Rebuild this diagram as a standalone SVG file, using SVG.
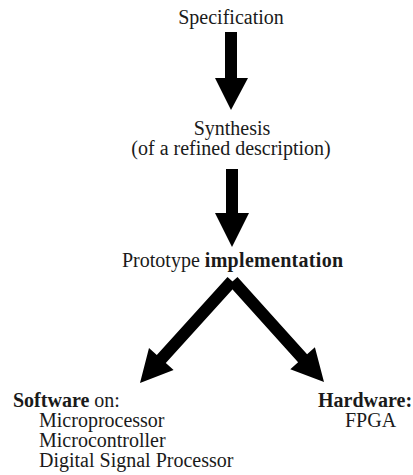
<svg xmlns="http://www.w3.org/2000/svg" width="413" height="475" viewBox="0 0 413 475">
  <style>
    text { font-family: "Liberation Serif", "Times New Roman", serif; font-size: 20px; fill: #1a1a1a; }
    .mid { text-anchor: middle; }
    .b { font-weight: bold; }
    .arrow { fill: #000; stroke: none; }
  </style>
  <rect width="413" height="475" fill="#fff"/>

  <!-- connectors: thick block arrows -->
  <g id="connectors">
    <polygon class="arrow" points="225,32 237,32 237,78 248,78 231,110 215,78 225,78"/>
    <polygon class="arrow" points="226,169 238,169 238,213 249,213 232,247 215,213 226,213"/>
    <polygon class="arrow" points="236.5,285 165.8,363.1 173.6,370.1 140,383 149,348.1 156.8,355.1 227.5,277"/>
    <polygon class="arrow" points="237.5,277 307.1,354.2 314.9,347.2 324,382 290.3,369.2 298.1,362.2 228.5,285"/>
  </g>

  <g id="specification">
    <text class="mid" x="231" y="24">Specification</text>
  </g>

  <g id="synthesis">
    <text class="mid" x="232" y="135">Synthesis</text>
    <text class="mid" x="231" y="155">(of a refined description)</text>
  </g>

  <g id="prototype">
    <text x="122" y="267">Prototype <tspan class="b" letter-spacing="0.3">implementation</tspan></text>
  </g>

  <g id="software">
    <text x="13" y="407"><tspan class="b">Software</tspan> on:</text>
    <text x="39" y="427">Microprocessor</text>
    <text x="39" y="447">Microcontroller</text>
    <text x="39" y="467">Digital Signal Processor</text>
  </g>

  <g id="hardware">
    <text class="b" x="318" y="407">Hardware:</text>
    <text x="345" y="427">FPGA</text>
  </g>
</svg>
